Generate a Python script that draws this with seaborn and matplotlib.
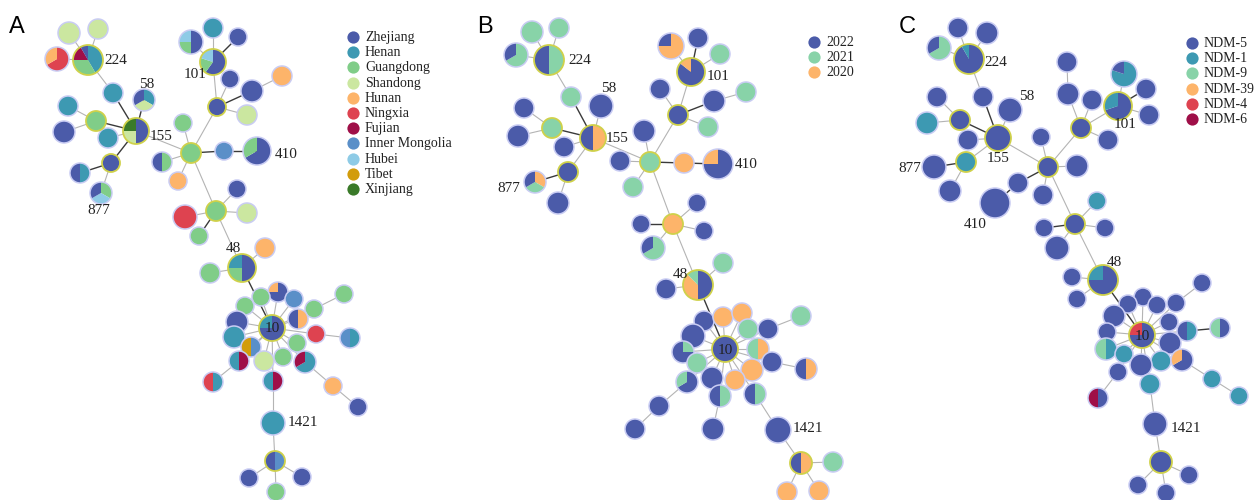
import matplotlib
matplotlib.use("Agg")
import matplotlib.pyplot as plt
from matplotlib.patches import Wedge, Circle
import seaborn as sns

# ---- legend categories / colours -------------------------------------------
provinces = ["Zhejiang", "Henan", "Guangdong", "Shandong", "Hunan", "Ningxia",
             "Fujian", "Inner Mongolia", "Hubei", "Tibet", "Xinjiang"]
province_codes = ["Z", "He", "G", "S", "Hu", "N", "F", "I", "Hb", "T", "X"]
province_colors = ["#4b5ba9", "#3d99b2", "#80cd88", "#cbe7a0", "#fdb46a", "#de4350",
                   "#9f0f48", "#5a8fc8", "#8ecbe6", "#d29c0c", "#3a7a29"]

years = ["2022", "2021", "2020"]
year_codes = ["22", "21", "20"]
year_colors = ["#4b5ba9", "#88d3a8", "#fdb46a"]

variants = ["NDM-5", "NDM-1", "NDM-9", "NDM-39", "NDM-4", "NDM-6"]
variant_codes = ["5", "1", "9", "39", "4", "6"]
variant_colors = ["#4b5ba9", "#3d99b2", "#88d3a8", "#fdb46a", "#de4350", "#9f0f48"]

# ---- nodes: (id, x, y, radius, composition clockwise from 12 o'clock, hub) ----
A_NODES = [
    ("224", 88, 60, 15, "He:5 G:4 F:2 Z:1", 1), ("S1", 69, 33, 11, "S", 0),
    ("S2", 98, 29, 10, "S", 0), ("NH", 57, 59, 12, "N:2 Hu:1", 0),
    ("He1", 113, 93, 10, "He", 0), ("155", 136, 131, 13, "Z:2 S X", 1),
    ("58", 144, 100, 11, "He S Z", 0), ("He2", 68, 106, 10, "He", 0),
    ("Gh", 96, 121, 10, "G", 1), ("Z1", 64, 132, 11, "Z", 0),
    ("He3", 108, 138, 10, "He", 0), ("Zh", 111, 163, 9, "Z", 1),
    ("ZHe", 80, 173, 10, "He Z", 0), ("877", 101, 193, 11, "G Hb Z", 0),
    ("C", 191, 153, 10, "G", 1), ("G1", 183, 123, 9, "G", 0),
    ("ZG", 162, 162, 10, "G Z", 0), ("Hu1", 178, 181, 9, "Hu", 0),
    ("I1", 224, 151, 9, "I", 0), ("410", 257, 151, 14, "Z:2 G", 0),
    ("Zh2", 217, 107, 9, "Z", 1), ("101", 213, 62, 13, "Z:3 G Hb", 1),
    ("ZHbG", 191, 42, 12, "Z:2 G Hb", 0), ("He4", 213, 28, 10, "He", 0),
    ("Z2", 238, 37, 9, "Z", 0), ("Z3", 230, 79, 9, "Z", 0),
    ("Z4", 252, 91, 11, "Z", 0), ("Hu2", 282, 76, 10, "Hu", 0),
    ("S3", 247, 115, 10, "S", 0), ("Gh2", 216, 211, 10, "G", 1),
    ("Z5", 237, 189, 9, "Z", 0), ("N1", 185, 217, 12, "N", 0),
    ("S4", 247, 213, 10, "S", 0), ("G2", 199, 236, 9, "G", 0),
    ("48", 242, 268, 14, "Z:2 G He", 1), ("Hu3", 265, 248, 10, "Hu", 0),
    ("G3", 210, 273, 10, "G", 0), ("ZHu", 278, 292, 10, "Z:3 Hu", 0),
    ("G4", 261, 297, 9, "G", 0), ("G5", 245, 306, 9, "G", 0),
    ("I2", 294, 299, 9, "I", 0), ("G6", 314, 309, 9, "G", 0),
    ("G7", 344, 294, 9, "G", 0), ("ZHu2", 298, 319, 10, "Hu Z", 0),
    ("Z6", 237, 322, 11, "Z", 0), ("He5", 234, 337, 11, "He", 0),
    ("TI", 251, 347, 10, "I T", 0), ("N2", 316, 334, 9, "N", 0),
    ("IHe", 350, 338, 10, "He I", 0), ("G8", 297, 343, 9, "G", 0),
    ("S5", 264, 361, 10, "S", 0), ("G9", 283, 357, 9, "G", 0),
    ("HeF", 239, 361, 10, "F He", 0), ("HeF2", 305, 362, 11, "He:2 F", 0),
    ("NHe", 213, 382, 10, "He N", 0), ("HeF3", 273, 381, 10, "F He", 0),
    ("Hu4", 333, 386, 9, "Hu", 0), ("Z7", 358, 407, 9, "Z", 0),
    ("1421", 273, 423, 12, "He", 0), ("ZI", 275, 461, 10, "I Z", 1),
    ("Z8", 249, 478, 9, "Z", 0), ("Z9", 302, 477, 9, "Z", 0),
    ("G10", 276, 492, 9, "G", 0), ("10", 272, 328, 13, "Z:3 He", 1),
]
A_EDGES = [("224", "S1"), ("224", "S2"), ("224", "NH"), ("224", "He1"), ("155", "He3"),
           ("Gh", "He2"), ("Gh", "Z1"), ("Zh", "877"), ("155", "C"), ("C", "G1"),
           ("C", "ZG"), ("C", "Hu1"), ("C", "Zh2"), ("Zh2", "101"), ("101", "ZHbG"),
           ("101", "He4"), ("Zh2", "Z3"), ("Z4", "Hu2"), ("Zh2", "S3"), ("C", "Gh2"),
           ("Gh2", "Z5"), ("Gh2", "N1"), ("Gh2", "S4"), ("Gh2", "48"), ("48", "Hu3"),
           ("48", "G3"), ("10", "ZHu"), ("10", "G4"), ("10", "G5"), ("10", "I2"),
           ("10", "G6"), ("10", "ZHu2"), ("10", "Z6"), ("10", "He5"), ("10", "TI"),
           ("10", "N2"), ("10", "G8"), ("10", "S5"), ("10", "G9"), ("10", "HeF"),
           ("10", "HeF2"), ("10", "HeF3"), ("G6", "G7"), ("N2", "IHe"), ("HeF", "NHe"),
           ("HeF2", "Hu4"), ("Hu4", "Z7"), ("HeF3", "1421"), ("1421", "ZI"),
           ("ZI", "Z8"), ("ZI", "Z9"), ("ZI", "G10")]
A_DARK = [("He1", "155"), ("155", "58"), ("155", "Gh"), ("155", "Zh"), ("Zh", "ZHe"),
          ("C", "I1"), ("I1", "410"), ("101", "Z2"), ("Zh2", "Z4"), ("Gh2", "G2"),
          ("48", "10")]
A_LABELS = [("224", 104, 61, "left"), ("58", 147, 85, "center"), ("155", 150, 136, "left"),
            ("101", 195, 74, "center"), ("410", 275, 154, "left"), ("877", 99, 211, "center"),
            ("48", 233, 249, "center"), ("10", 272, 329, "center"), ("1421", 288, 423, "left")]

B_NODES = [
    ("224", 549, 60, 15, "21 22", 1), ("A1", 532, 32, 11, "21", 0),
    ("A2", 559, 28, 10, "21", 0), ("P1", 516, 55, 12, "21:2 22", 0),
    ("A3", 571, 97, 10, "21", 0), ("58", 601, 106, 12, "22", 0),
    ("155", 593, 138, 13, "20 22", 1), ("Z1", 524, 108, 10, "22", 0),
    ("H1", 552, 128, 10, "21", 1), ("Z2", 518, 136, 11, "22", 0),
    ("Z3", 564, 147, 10, "22", 0), ("H2", 568, 172, 10, "22", 1),
    ("877", 535, 182, 11, "20 21 22", 0), ("Z4", 558, 203, 11, "22", 0),
    ("C", 650, 162, 10, "21", 1), ("Z5", 644, 131, 11, "22", 0),
    ("Z6", 620, 161, 10, "22", 0), ("A4", 633, 187, 10, "21", 0),
    ("O1", 684, 163, 10, "20", 0), ("410", 718, 164, 15, "22:3 20", 0),
    ("H3", 678, 115, 10, "22", 1), ("Z7", 660, 89, 10, "22", 0),
    ("Z8", 714, 101, 11, "22", 0), ("A5", 746, 92, 10, "21", 0),
    ("A6", 708, 127, 10, "21", 0), ("101", 691, 72, 14, "22:6 20", 1),
    ("P2", 671, 46, 13, "20:3 22", 0), ("Z9", 698, 38, 10, "22", 0),
    ("A7", 720, 54, 10, "21", 0), ("H4", 673, 224, 10, "20", 1),
    ("Z10", 697, 203, 9, "22", 0), ("Z11", 641, 224, 9, "22", 0),
    ("Z12", 704, 231, 9, "22", 0), ("P3", 653, 248, 12, "21:2 22", 0),
    ("48", 698, 285, 15, "22:4 20:3 21", 1), ("A8", 723, 263, 10, "21", 0),
    ("Z13", 666, 289, 10, "22", 0), ("Z14", 704, 321, 10, "22", 0),
    ("O2", 723, 317, 10, "20", 0), ("O3", 742, 313, 10, "20", 0),
    ("A9", 748, 329, 10, "21", 0), ("Z15", 768, 329, 10, "22", 0),
    ("A10", 801, 316, 10, "21", 0), ("Z16", 693, 336, 12, "22", 0),
    ("Z17", 683, 352, 11, "21 22:3", 0), ("AO", 758, 349, 11, "20 21", 0),
    ("A11", 697, 363, 10, "21", 0), ("Z18", 772, 362, 10, "22", 0),
    ("ZO", 806, 369, 11, "20 22", 0), ("O4", 752, 370, 11, "20", 0),
    ("Z19", 712, 378, 11, "22", 0), ("O5", 735, 380, 10, "20", 0),
    ("AZ", 687, 382, 11, "22:2 21", 0), ("ZA1", 720, 396, 11, "21 22", 0),
    ("ZA2", 755, 394, 11, "21 22", 0), ("Z20", 659, 406, 10, "22", 0),
    ("Z21", 635, 429, 10, "22", 0), ("Z22", 713, 429, 11, "22", 0),
    ("1421", 778, 430, 13, "22", 0), ("H5", 801, 463, 11, "20 22", 1),
    ("A12", 833, 462, 10, "21", 0), ("O6", 787, 492, 10, "20", 0),
    ("O7", 819, 491, 10, "20", 0), ("10", 725, 349, 13, "22", 1),
]
B_EDGES = [("224", "A1"), ("224", "A2"), ("224", "P1"), ("224", "A3"), ("155", "58"),
           ("H1", "Z1"), ("H1", "Z2"), ("155", "Z3"), ("155", "H2"), ("H2", "Z4"),
           ("155", "C"), ("C", "Z5"), ("C", "Z6"), ("C", "A4"), ("C", "H3"), ("H3", "101"),
           ("101", "P2"), ("101", "A7"), ("H3", "Z7"), ("Z8", "A5"), ("H3", "A6"),
           ("C", "H4"), ("H4", "Z10"), ("H4", "Z12"), ("H4", "P3"), ("H4", "48"),
           ("48", "A8"), ("48", "Z13"), ("10", "Z14"), ("10", "O2"), ("10", "O3"),
           ("10", "A9"), ("10", "Z15"), ("10", "Z16"), ("10", "Z17"), ("10", "AO"),
           ("10", "A11"), ("10", "Z18"), ("10", "O4"), ("10", "Z19"), ("10", "O5"),
           ("10", "AZ"), ("10", "ZA1"), ("10", "ZA2"), ("Z15", "A10"), ("Z18", "ZO"),
           ("AZ", "Z20"), ("Z20", "Z21"), ("ZA1", "Z22"), ("ZA2", "1421"),
           ("1421", "H5"), ("H5", "A12"), ("H5", "O6"), ("H5", "O7")]
B_DARK = [("A3", "155"), ("155", "H1"), ("H2", "877"), ("C", "O1"), ("O1", "410"),
          ("101", "Z9"), ("H3", "Z8"), ("H4", "Z11"), ("48", "10")]
B_LABELS = [("224", 568, 61, "left"), ("58", 609, 88, "center"), ("155", 606, 139, "left"),
            ("101", 707, 77, "left"), ("410", 735, 164, "left"), ("877", 509, 188, "center"),
            ("48", 680, 274, "center"), ("10", 725, 350, "center"), ("1421", 793, 429, "left")]

C_NODES = [
    ("224", 969, 59, 15, "5:11 1", 1), ("Z1", 958, 28, 10, "5", 0),
    ("Z2", 987, 33, 11, "5", 0), ("P1", 939, 48, 12, "9:2 5", 0),
    ("Z3", 983, 97, 10, "5", 0), ("58", 1010, 110, 12, "5", 0),
    ("155", 998, 138, 13, "5", 1), ("Z4", 937, 97, 10, "5", 0),
    ("H1", 960, 120, 10, "5", 1), ("T1", 927, 123, 11, "1", 0),
    ("Z5", 968, 140, 10, "5", 0), ("H2", 966, 162, 10, "1", 1),
    ("877", 934, 167, 12, "5", 0), ("Z6", 950, 191, 11, "5", 0),
    ("C", 1048, 167, 10, "5", 1), ("Z7", 1041, 137, 9, "5", 0),
    ("Z8", 1077, 166, 11, "5", 0), ("Z9", 1018, 183, 10, "5", 0),
    ("410", 995, 203, 15, "5", 0), ("Z10", 1043, 195, 10, "5", 0),
    ("H3", 1081, 128, 10, "5", 1), ("Z11", 1067, 62, 10, "5", 0),
    ("Z12", 1068, 94, 11, "5", 0), ("Z13", 1092, 100, 10, "5", 0),
    ("Z14", 1108, 140, 10, "5", 0), ("101", 1118, 106, 14, "5:7 1:3", 1),
    ("P2", 1124, 74, 13, "1:4 5", 0), ("Z15", 1146, 89, 10, "5", 0),
    ("Z16", 1149, 115, 10, "5", 0), ("H4", 1075, 224, 10, "5", 1),
    ("T2", 1097, 201, 9, "1", 0), ("Z17", 1044, 228, 9, "5", 0),
    ("Z18", 1105, 228, 9, "5", 0), ("Z19", 1057, 248, 12, "5", 0),
    ("48", 1103, 280, 15, "5:3 1", 1), ("Z20", 1072, 277, 9, "5", 0),
    ("Z21", 1077, 299, 9, "5", 0), ("Z22", 1143, 297, 9, "5", 0),
    ("Z23", 1128, 304, 9, "5", 0), ("Z24", 1157, 305, 9, "5", 0),
    ("Z25", 1176, 303, 9, "5", 0), ("Z26", 1202, 283, 9, "5", 0),
    ("Z27", 1114, 316, 11, "5", 0), ("Z28", 1169, 322, 9, "5", 0),
    ("Z29", 1107, 332, 9, "5", 0), ("ZT", 1187, 331, 10, "1 5", 0),
    ("MZ", 1220, 328, 10, "5 9", 0), ("Z30", 1170, 343, 11, "5", 0),
    ("MT", 1106, 349, 11, "1 9", 0), ("T3", 1124, 354, 9, "1", 0),
    ("T4", 1161, 361, 10, "1", 0), ("OZ", 1182, 360, 11, "5:2 39", 0),
    ("Z31", 1141, 365, 11, "5", 0), ("Z32", 1118, 372, 9, "5", 0),
    ("T5", 1150, 384, 10, "1", 0), ("T6", 1212, 379, 9, "1", 0),
    ("T7", 1239, 396, 9, "1", 0), ("FZ", 1098, 398, 10, "5 6", 0),
    ("1421", 1155, 424, 12, "5", 0), ("H5", 1161, 462, 11, "5", 1),
    ("Z33", 1138, 485, 9, "5", 0), ("Z34", 1189, 475, 9, "5", 0),
    ("Z35", 1166, 493, 9, "5", 0), ("10", 1142, 335, 13, "5:3 4", 1),
]
C_EDGES = [("224", "Z1"), ("224", "Z2"), ("224", "P1"), ("224", "Z3"), ("155", "58"),
           ("H1", "Z4"), ("H1", "T1"), ("155", "Z5"), ("155", "H2"), ("H2", "Z6"),
           ("155", "C"), ("C", "Z7"), ("C", "Z8"), ("C", "Z10"), ("C", "H3"), ("H3", "101"),
           ("101", "P2"), ("101", "Z16"), ("H3", "Z12"), ("Z12", "Z11"), ("H3", "Z13"),
           ("H3", "Z14"), ("C", "H4"), ("H4", "T2"), ("H4", "Z18"), ("H4", "Z19"),
           ("H4", "48"), ("48", "Z20"), ("48", "Z21"), ("10", "Z22"), ("10", "Z23"),
           ("10", "Z24"), ("10", "Z25"), ("10", "Z27"), ("10", "Z28"), ("10", "Z29"),
           ("10", "ZT"), ("10", "Z30"), ("10", "MT"), ("10", "T3"), ("10", "T4"),
           ("10", "OZ"), ("10", "Z31"), ("10", "Z32"), ("10", "T5"), ("Z25", "Z26"),
           ("OZ", "T6"), ("T6", "T7"), ("Z32", "FZ"), ("T5", "1421"), ("1421", "H5"),
           ("H5", "Z33"), ("H5", "Z34"), ("H5", "Z35")]
C_DARK = [("Z3", "155"), ("155", "H1"), ("H2", "877"), ("C", "Z9"), ("Z9", "410"),
          ("101", "Z15"), ("H4", "Z17"), ("48", "10"), ("ZT", "MZ")]
C_LABELS = [("224", 984, 63, "left"), ("58", 1027, 97, "center"), ("155", 998, 159, "center"),
            ("101", 1125, 125, "center"), ("410", 975, 225, "center"), ("877", 910, 168, "center"),
            ("48", 1114, 262, "center"), ("10", 1142, 336, "center"), ("1421", 1171, 429, "left")]


def draw_panel(ax, nodes, edges, dark, labels, codes, colors):
    cmap = dict(zip(codes, colors))
    pos = {n[0]: (n[1], n[2]) for n in nodes}
    for group, col, lw in ((edges, "#b4b4b4", 0.8), (dark, "#3a3a3a", 1.0)):
        for a, b in group:
            ax.plot([pos[a][0], pos[b][0]], [pos[a][1], pos[b][1]],
                    color=col, lw=lw, zorder=1, solid_capstyle="butt")
    order = [n for n in nodes if not n[5]] + [n for n in nodes if n[5]]
    for z, (nid, x, y, r, mix, hub) in enumerate(order):
        parts = [t.split(":") for t in mix.split()]
        weights = [float(p[1]) if len(p) > 1 else 1.0 for p in parts]
        total = sum(weights)
        start = -90.0  # y axis is inverted: -90 is 12 o'clock, increasing = clockwise
        for p, w in zip(parts, weights):
            sweep = 360.0 * w / total
            ax.add_patch(Wedge((x, y), r, start, start + sweep, facecolor=cmap[p[0]],
                               edgecolor="none", zorder=2 + z * 0.01))
            start += sweep
        ax.add_patch(Circle((x, y), r, facecolor="none",
                            edgecolor="#cfd14a" if hub else "#c9ccf3",
                            lw=1.3 if hub else 1.1, zorder=2 + z * 0.01 + 0.005))
    for text, x, y, ha in labels:
        ax.text(x, y, text, ha=ha, va="center", fontsize=11, color="#222222", zorder=10)


def draw_legend(ax, x0, y0, names, colors):
    for i, (name, col) in enumerate(zip(names, colors)):
        y = y0 + i * 15.2
        ax.plot([x0], [y], marker="o", ms=8.8, color=col, mec="none", zorder=10)
        ax.text(x0 + 12, y + 0.5, name, ha="left", va="center", fontsize=10, color="#222222")


sns.set_theme(style="white")
plt.rcParams["font.family"] = ["Liberation Serif", "DejaVu Serif"]

fig = plt.figure(figsize=(12.55, 5.0), dpi=100)
ax = fig.add_axes([0, 0, 1, 1])
ax.set_xlim(0, 1255)
ax.set_ylim(500, 0)
ax.axis("off")

draw_panel(ax, A_NODES, A_EDGES, A_DARK, A_LABELS, province_codes, province_colors)
draw_panel(ax, B_NODES, B_EDGES, B_DARK, B_LABELS, year_codes, year_colors)
draw_panel(ax, C_NODES, C_EDGES, C_DARK, C_LABELS, variant_codes, variant_colors)

draw_legend(ax, 353, 37, provinces, province_colors)
draw_legend(ax, 814, 42, years, year_colors)
draw_legend(ax, 1192, 43, variants, variant_colors)

for letter, x in (("A", 9), ("B", 477), ("C", 899)):
    ax.text(x, 27, letter, ha="left", va="center", fontsize=17,
            family=["Liberation Sans", "DejaVu Sans"], color="black")

fig.savefig("out.png", dpi=100)
